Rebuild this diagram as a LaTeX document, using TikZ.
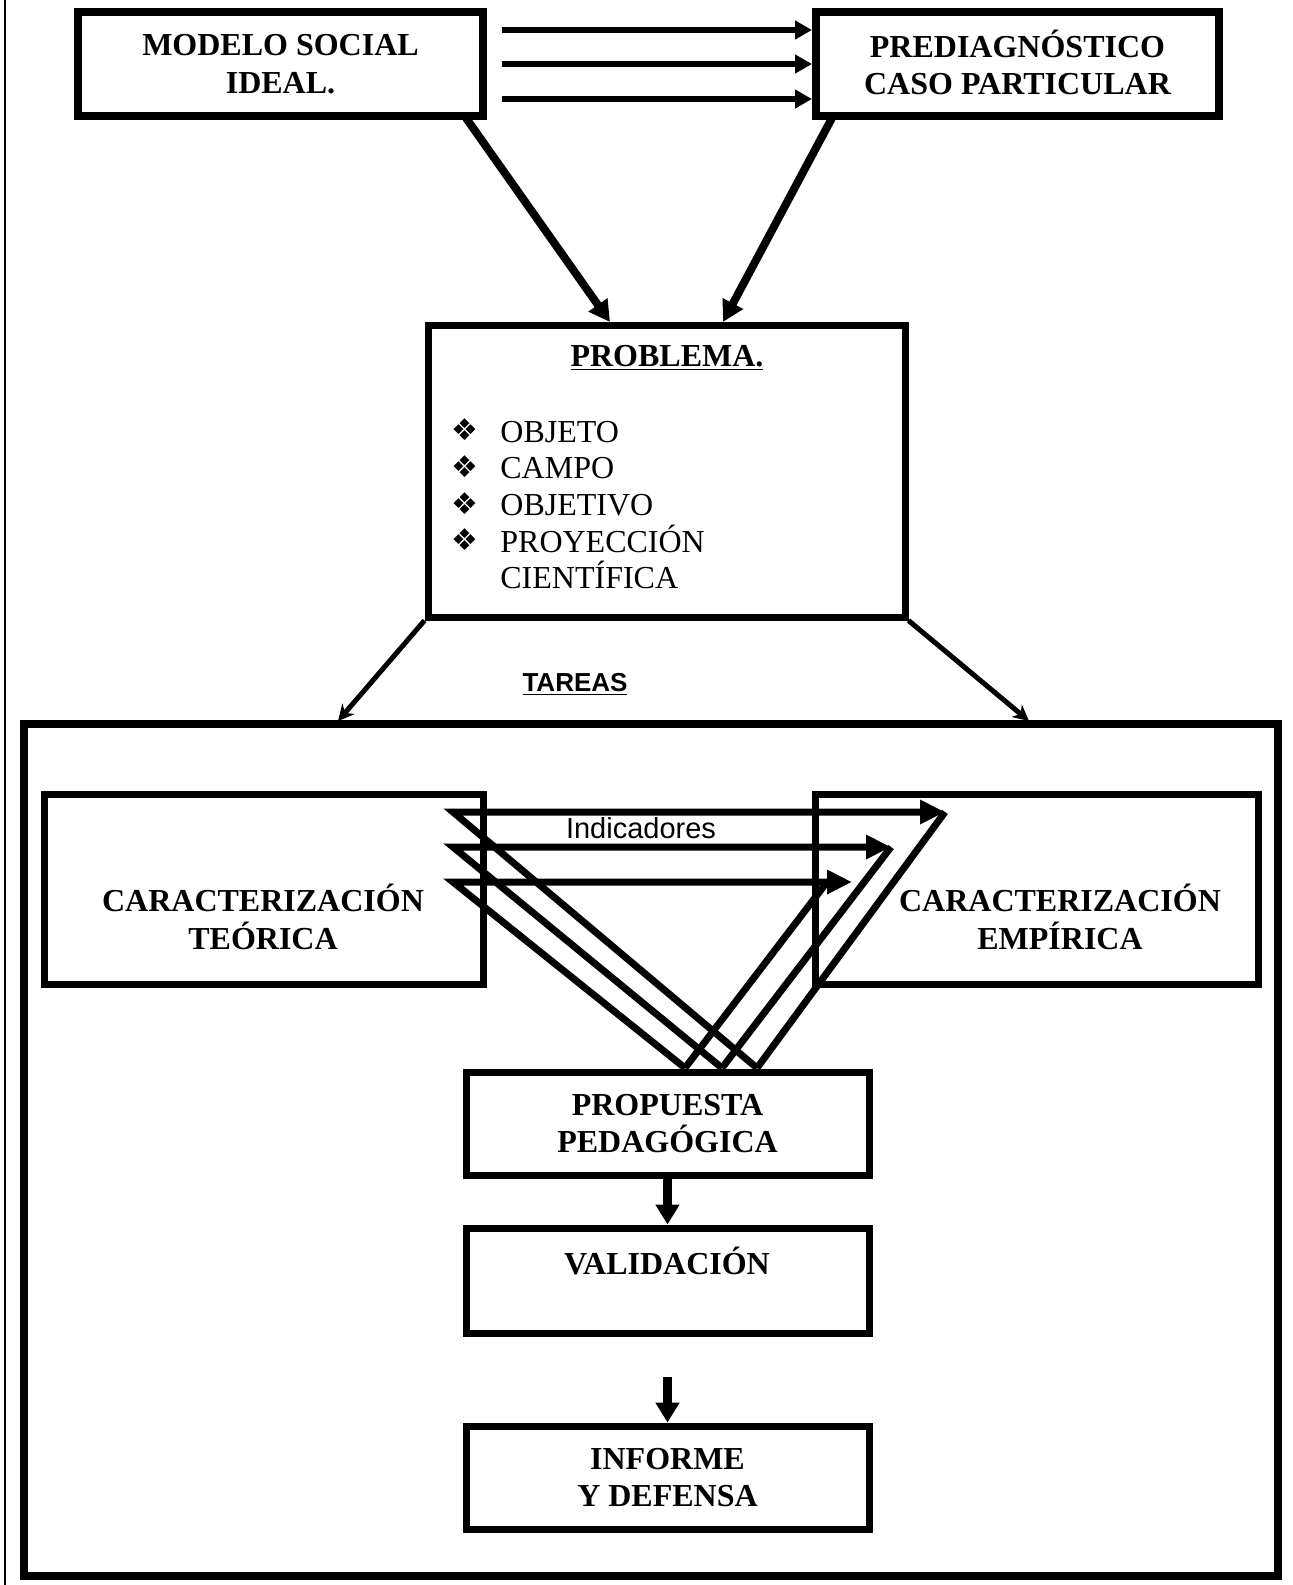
\documentclass[tikz,border=0pt]{standalone}
\usepackage{fontspec}
\setmainfont{Liberation Serif}
\newfontfamily\arialf{Liberation Sans}
\newfontfamily\dejavu{DejaVu Sans}
\usetikzlibrary{arrows.meta}
\begin{document}
\begin{tikzpicture}[x=0.5pt,y=-0.5pt,
  box/.style={draw,line width=4pt,inner sep=0pt,align=center,font=\bfseries\fontsize{16}{18.75}\selectfont},
  btxt/.style={align=center,inner sep=0pt,font=\bfseries\fontsize{16}{18.75}\selectfont},
  itm/.style={anchor=base west,inner sep=0pt,font=\fontsize{16}{18.4}\selectfont},
  bul/.style={inner sep=0pt,font=\dejavu\fontsize{15}{16}\selectfont},
  toparr/.style={line width=3pt,-{Triangle[length=8.5pt,width=9pt]}},
  diagarr/.style={line width=4pt,-{Triangle[length=10.5pt,width=11pt]}},
  tarr/.style={line width=2.5pt,-{Stealth[length=8pt,width=8pt]}},
  inarr/.style={line width=3.5pt,line join=miter,-{Triangle[length=12.5pt,width=11.5pt]}},
  inln/.style={line width=3.5pt,line join=miter},
  varr/.style={line width=4.5pt,-{Triangle[length=10pt,width=11.5pt]}},
]
\useasboundingbox (0,0) rectangle (1293,1585);
% thin page edge
\coordinate (lt) at (5,0);
\coordinate (lb) at (5,1585);
\draw[line width=1pt] (lt) -- (lb);

% boxes
\node[box,minimum width=202.5pt,minimum height=52pt] (mod) at (280.5,64) {MODELO SOCIAL\\IDEAL.};
\node[box,minimum width=201.5pt,minimum height=52pt] (pre) at (1017.5,64) {};
\node[box,line width=3.5pt,minimum width=238.5pt,minimum height=146pt] (prob) at (666.5,471) {};
\node[box,minimum width=627pt,minimum height=426pt] (out) at (651,1150) {};
\node[box,line width=3.5pt,minimum width=219.5pt,minimum height=95pt] (teo) at (263.5,889) {};
\node[box,line width=3.5pt,minimum width=221.5pt,minimum height=95pt] (emp) at (1036.5,889) {};
\node[box,line width=3.5pt,minimum width=201.5pt,minimum height=51.5pt] (prop) at (667.5,1123.5) {PROPUESTA\\PEDAGÓGICA};
\node[box,line width=3.5pt,minimum width=201.5pt,minimum height=52.5pt] (val) at (667.5,1280.5) {};
\node[box,line width=3.5pt,minimum width=201.5pt,minimum height=51.5pt] (inf) at (667.5,1477.5) {INFORME\\Y DEFENSA};

% texts
\node[btxt] (pret) at (1017.5,62.5) {PREDIAGNÓSTICO\\CASO PARTICULAR};
\node[btxt] (teot) at (263,917) {CARACTERIZACIÓN\\TEÓRICA};
\node[btxt] (empt) at (1060,917) {CARACTERIZACIÓN\\EMPÍRICA};
\node[btxt,anchor=base] (valt) at (667,1274) {VALIDACIÓN};
\node[btxt,anchor=base] (probt) at (667,366) {\underline{PROBLEMA.}};

\node[itm] (i1) at (500,442) {OBJETO};
\node[itm] (i2) at (500,478.7) {CAMPO};
\node[itm] (i3) at (500,515.4) {OBJETIVO};
\node[itm] (i4) at (500,552) {PROYECCIÓN};
\node[itm] (i5) at (500,588.7) {CIENTÍFICA};
\node[bul] (u1) at (465,430) {❖};
\node[bul] (u2) at (465,466.7) {❖};
\node[bul] (u3) at (465,503.4) {❖};
\node[bul] (u4) at (465,540) {❖};

\node[anchor=base,inner sep=0pt,font=\arialf\bfseries\fontsize{13}{15}\selectfont] (tar) at (575,691) {\underline{TAREAS}};
\node[anchor=base,inner sep=0pt,font=\arialf\fontsize{14.5}{17}\selectfont] (ind) at (641,838) {Indicadores};

% top arrows
\coordinate (ta1) at (502,30);  \coordinate (tb1) at (812,30);
\coordinate (ta2) at (502,64);  \coordinate (tb2) at (812,64);
\coordinate (ta3) at (502,99);  \coordinate (tb3) at (812,99);
\draw[toparr] (ta1) -- (tb1);
\draw[toparr] (ta2) -- (tb2);
\draw[toparr] (ta3) -- (tb3);

% to problema
\coordinate (d1s) at (466,118); \coordinate (d1e) at (610,322);
\coordinate (d2s) at (832,118); \coordinate (d2e) at (723,322);
\draw[diagarr] (d1s) -- (d1e);
\draw[diagarr] (d2s) -- (d2e);

% problema to outer
\coordinate (pl) at (338,721);
\coordinate (pr) at (1029,721);
\draw[tarr] (prob.south west) -- (pl);
\draw[tarr] (prob.south east) -- (pr);

% inner triangles
\coordinate (s1) at (453,812); \coordinate (t1) at (945,812); \coordinate (b1) at (757,1068);
\coordinate (s2) at (453,847); \coordinate (t2) at (891,847); \coordinate (b2) at (722,1068);
\coordinate (s3) at (453,882); \coordinate (t3) at (852,882); \coordinate (b3) at (685,1068);
\coordinate (e3) at (827,882);
\draw[inarr] (b1) -- (s1) -- (t1);
\draw[inln] (b1) -- (t1);
\draw[inarr] (b2) -- (s2) -- (t2);
\draw[inln] (b2) -- (t2);
\draw[inarr] (b3) -- (s3) -- (t3);
\draw[inln] (b3) -- (e3);

% vertical arrows
\draw[varr] (prop.south) -- (val.north);
\coordinate (vi) at (667.5,1377);
\draw[varr] (vi) -- (inf.north);
\end{tikzpicture}
\end{document}
